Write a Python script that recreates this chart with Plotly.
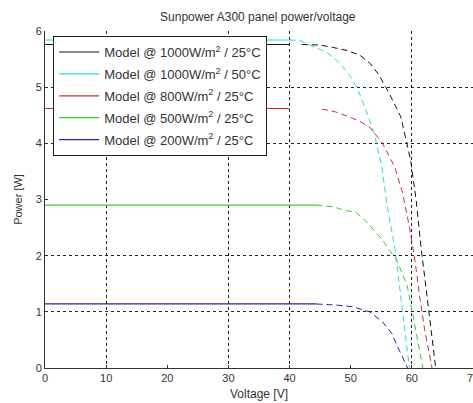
import plotly.graph_objects as go

# ---- data ----
labels = [
    "Model @ 1000W/m<sup>2</sup> / 25°C",
    "Model @ 1000W/m<sup>2</sup> / 50°C",
    "Model @ 800W/m<sup>2</sup> / 25°C",
    "Model @ 500W/m<sup>2</sup> / 25°C",
    "Model @ 200W/m<sup>2</sup> / 25°C",
]
colors = ["#111111", "#22dddd", "#d42a2a", "#33cc33", "#2222aa"]

# flat (solid) portion of each curve
flat_v_1000_25 = [0, 40]
flat_i_1000_25 = [5.76, 5.76]
flat_v_1000_50 = [0, 40]
flat_i_1000_50 = [5.84, 5.84]
flat_v_800_25 = [0, 40]
flat_i_800_25 = [4.62, 4.62]
flat_v_500_25 = [0, 44.4]
flat_i_500_25 = [2.90, 2.90]
flat_v_200_25 = [0, 44.4]
flat_i_200_25 = [1.14, 1.14]

# dashed (knee) portion of each curve
knee_v_1000_25 = [42.0, 45.0, 47.0, 49.5, 51.5, 53.2, 54.6, 56.2, 58.2, 59.8, 60.7, 61.5, 62.3, 63.1, 63.9]
knee_i_1000_25 = [5.76, 5.75, 5.71, 5.65, 5.57, 5.42, 5.22, 4.91, 4.47, 3.70, 2.99, 2.15, 1.44, 0.73, 0.0]
knee_v_1000_50 = [40.0, 41.7, 43.3, 46.1, 48.2, 49.8, 51.1, 52.6, 53.9, 55.1, 56.0, 57.2, 58.0, 58.8, 59.6]
knee_i_1000_50 = [5.84, 5.83, 5.75, 5.62, 5.43, 5.21, 4.98, 4.56, 4.15, 3.58, 2.86, 2.15, 1.44, 0.73, 0.0]
knee_v_800_25 = [45.3, 47.5, 49.8, 51.5, 53.1, 55.2, 57.2, 58.5, 59.6, 60.5, 61.3, 62.1, 63.3]
knee_i_800_25 = [4.61, 4.56, 4.47, 4.39, 4.29, 4.00, 3.58, 3.11, 2.51, 1.92, 1.26, 0.68, 0.0]
knee_v_500_25 = [44.4, 47.1, 49.0, 51.0, 52.6, 55.2, 57.5, 59.2, 60.1, 60.9, 61.8]
knee_i_500_25 = [2.90, 2.87, 2.81, 2.76, 2.60, 2.28, 1.92, 1.48, 0.98, 0.50, 0.0]
knee_v_200_25 = [44.4, 47.7, 50.3, 53.1, 55.2, 56.7, 57.7, 58.8, 59.3]
knee_i_200_25 = [1.14, 1.12, 1.09, 1.00, 0.82, 0.62, 0.37, 0.11, 0.0]

x_ticks = [0, 10, 20, 30, 40, 50, 60, 70]
y_ticks = [0, 1, 2, 3, 4, 5, 6]
x_grid = [10, 30, 40, 60]
y_grid = [1, 2, 4, 5, 6]

flats = [
    (flat_v_1000_25, flat_i_1000_25),
    (flat_v_1000_50, flat_i_1000_50),
    (flat_v_800_25, flat_i_800_25),
    (flat_v_500_25, flat_i_500_25),
    (flat_v_200_25, flat_i_200_25),
]
knees = [
    (knee_v_1000_25, knee_i_1000_25),
    (knee_v_1000_50, knee_i_1000_50),
    (knee_v_800_25, knee_i_800_25),
    (knee_v_500_25, knee_i_500_25),
    (knee_v_200_25, knee_i_200_25),
]

fig = go.Figure()
for k in range(5):
    fv, fi = flats[k]
    kv, ki = knees[k]
    fig.add_trace(go.Scatter(
        x=kv, y=ki, mode="lines", name=labels[k], legendgroup=str(k),
        showlegend=False, line=dict(color=colors[k], width=1, dash="6px,4px"),
    ))
    fig.add_trace(go.Scatter(
        x=fv, y=fi, mode="lines", name=labels[k], legendgroup=str(k),
        showlegend=True, line=dict(color=colors[k], width=1.2),
    ))

font_family = "Liberation Sans, Arial, sans-serif"
fig.update_layout(
    width=473, height=403,
    margin=dict(l=45, r=0, t=31, b=35),
    paper_bgcolor="white", plot_bgcolor="white",
    font=dict(family=font_family, size=11, color="#333333"),
    title=dict(text="Sunpower A300 panel power/voltage", x=0.545, xanchor="center",
               y=0.958, yanchor="middle", font=dict(size=12, color="#333333")),
    showlegend=True,
    legend=dict(x=0.019, y=0.985, xanchor="left", yanchor="top",
                bgcolor="white", bordercolor="#222222", borderwidth=1,
                font=dict(size=13, color="#333333"), itemwidth=40,
                traceorder="grouped", tracegroupgap=2),
    xaxis=dict(range=[0, 70], tickvals=x_ticks, showgrid=False, zeroline=False,
               showline=True, linecolor="#333333", linewidth=1,
               ticks="inside", ticklen=3, tickcolor="#333333",
               ticklabeloverflow="allow", automargin=False,
               title=dict(text="Voltage [V]", standoff=6, font=dict(size=12)),
               minor=dict(tickvals=x_grid, showgrid=True, gridcolor="#222222",
                          griddash="3px,3px", gridwidth=1, ticks="")),
    yaxis=dict(range=[0, 6], tickvals=y_ticks, showgrid=False, zeroline=False,
               showline=True, linecolor="#333333", linewidth=1,
               ticks="inside", ticklen=3, tickcolor="#333333",
               automargin=False,
               title=dict(text="Power [W]", standoff=10, font=dict(size=11)),
               minor=dict(tickvals=y_grid, showgrid=True, gridcolor="#222222",
                          griddash="3px,3px", gridwidth=1, ticks="")),
)

fig.write_html("out.html", config={"displayModeBar": False},
               post_script="document.body.style.margin='0';document.body.style.overflow='hidden';")
